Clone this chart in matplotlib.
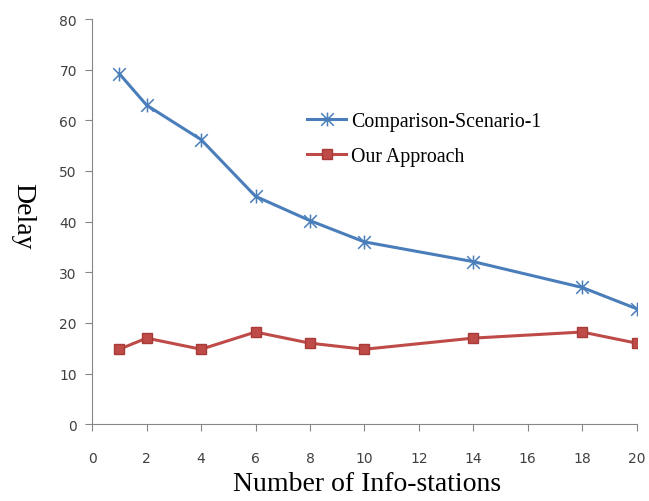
import matplotlib.pyplot as plt
from matplotlib.path import Path

# data
stations = [1, 2, 4, 6, 8, 10, 14, 18, 20]
delay_comparison = [69.2, 63, 56.2, 45, 40.2, 36, 32.1, 27, 22.8]
delay_ours = [14.8, 17, 14.8, 18.2, 16, 14.8, 17, 18.2, 16]
xticks = list(range(0, 21, 2))
yticks = list(range(0, 81, 10))

# excel-like star marker: an x with a vertical bar through it
star = Path([(-1, -1), (1, 1), (-1, 1), (1, -1), (0, -1.1), (0, 1.1)],
            [Path.MOVETO, Path.LINETO, Path.MOVETO, Path.LINETO, Path.MOVETO, Path.LINETO])

fig = plt.figure(figsize=(6.49, 5.02), dpi=100)
ax = fig.add_axes([0.142, 0.153, 0.839, 0.807])

ax.plot(stations, delay_comparison, color='#4A7EBB', lw=2.2,
        marker=star, ms=10, mew=1.1, label='Comparison-Scenario-1')
ax.plot(stations, delay_ours, color='#BE4B48', lw=2.2,
        marker='s', ms=7, mec='#A83A37', label='Our Approach')

ax.set_xlim(0, 20)
ax.set_ylim(0, 80)
ax.set_xticks(xticks)
ax.set_yticks(yticks)

for s in ['top', 'right']:
    ax.spines[s].set_visible(False)
for s in ['left', 'bottom']:
    ax.spines[s].set_color('#868686')
ax.tick_params(direction='out', length=5, color='#868686', labelcolor='#404040',
               labelsize=10, pad=6)
ax.tick_params(axis='x', pad=14)

ax.set_xlabel('Number of Info-stations', family='Liberation Serif', fontsize=20)
ax.xaxis.set_label_coords(0.505, -0.115)
ax.set_ylabel('Delay', family='Liberation Serif', fontsize=20, rotation=270, va='center')
ax.yaxis.set_label_coords(-0.128, 0.516)

ax.legend(loc='upper left', bbox_to_anchor=(0.394, 0.77), frameon=False,
          borderpad=0, borderaxespad=0,
          prop={'family': 'Liberation Serif', 'size': 14.3}, handlelength=2.0,
          handletextpad=0.25, labelspacing=0.78)

plt.savefig('out.png')
